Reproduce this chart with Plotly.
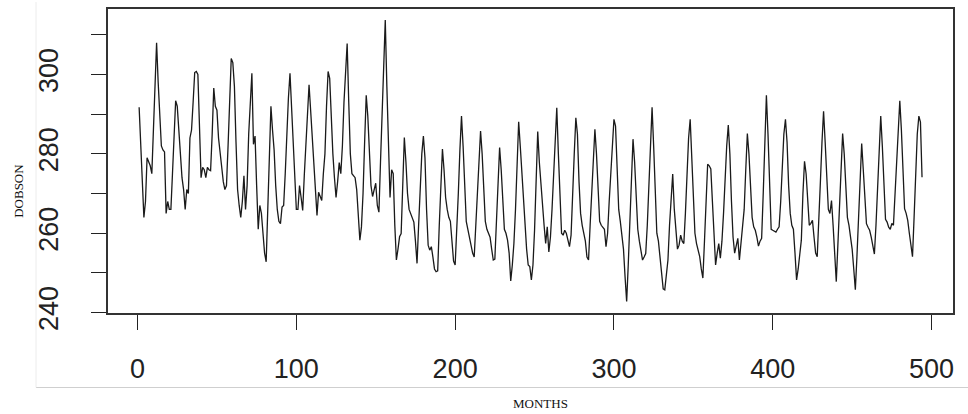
import plotly.graph_objects as go

# monthly total ozone (Dobson units), one row per year
dobson = [
    291.75, 283, 272, 264, 268, 279, 278, 277, 275, 287, 300, 308,
    298, 290, 282, 281, 280.5, 265, 268, 266, 266, 275, 285, 293.4,
    292, 286, 279, 274, 271, 266, 271, 270, 284, 286, 293, 300.5,
    300.75, 300, 287, 274, 276.6, 276, 274, 276.6, 276, 275.75, 285, 296.6,
    292, 291, 284, 280, 276, 273, 271, 272, 282, 295, 304, 303,
    297, 283, 271, 267, 264, 268, 274.5, 266, 272, 285, 295, 300.3,
    282.4, 284.5, 272, 261, 267, 265, 260, 255, 252.8, 265, 280, 292,
    286, 281, 272, 266, 263, 262.4, 266.6, 267, 275, 285, 294, 300.3,
    292, 280, 272, 266, 266, 272, 269, 265.75, 274.5, 282, 291, 297.4,
    291, 285, 277, 273, 264.5, 270.3, 269, 268.25, 275, 280, 292, 300.75,
    299, 288, 280, 274, 269, 273, 277.8, 275, 282, 293, 302, 307.8,
    293, 280, 275, 274.5, 274, 271, 265, 258.25, 261.6, 270, 283, 294.75,
    289.5, 280, 272, 269.25, 271, 272.6, 267, 265.3, 278, 292, 305, 313.7,
    297, 280, 269, 276, 275, 262, 253.25, 256, 259.1, 259.9, 272, 284.1,
    278, 270, 266, 265, 263.5, 262.8, 258, 252.4, 262, 272, 280, 284.5,
    279, 266, 257, 255.75, 256.6, 254, 251, 250.3, 250.5, 262, 273, 281.2,
    276, 269, 266, 264, 263, 258, 253, 252, 260, 270, 281, 289.5,
    282, 270, 263, 261, 259, 257, 255, 254, 262, 270, 279, 285.75,
    280, 270, 263, 261, 260, 259, 256, 253.25, 253.5, 262, 272, 281.6,
    276, 267, 261, 260, 258.25, 255, 248, 252, 257.4, 266, 278, 288.1,
    282, 275, 270, 263, 256, 252, 251.6, 248.25, 252, 260.75, 273, 285.6,
    278, 272, 268, 262, 257.4, 261.6, 255.3, 259, 266, 275, 284, 291.6,
    280, 268, 260, 259.5, 260.75, 260, 258, 256.6, 259.5, 268, 280, 289.1,
    285, 273, 265, 262, 259.5, 258, 254, 253.25, 262, 270, 279, 286.2,
    280, 270, 263, 262, 261.5, 261, 256.6, 260, 268, 276, 284, 288.7,
    287, 275, 266, 263, 259, 256, 249, 242.8, 252, 264, 275, 283.7,
    278, 268, 261, 258, 255, 253.25, 254, 254.9, 262, 272, 283, 291.75,
    282, 270, 260, 258, 254, 250, 246, 245.75, 250, 253.25, 262, 270,
    274.9, 266, 260, 256, 257, 259.5, 258, 257.4, 265, 275, 284, 288.7,
    280, 268, 260, 257.4, 256, 254.1, 251, 248.7, 258, 268, 277.4, 277,
    276.2, 268, 258, 252, 255, 257.4, 253.7, 258, 265, 274, 282, 287.25,
    280, 268, 259, 255, 257, 258.7, 253.25, 257, 262, 266, 276, 285.1,
    280, 270, 264, 261.6, 260.75, 259, 256.75, 258, 258.7, 270, 284, 294.75,
    285, 270, 261, 260.75, 260.5, 260.3, 261, 261.6, 268, 277, 285, 288.7,
    283, 272, 265, 262, 261, 255, 248.25, 251, 255, 258.25, 270, 278.1,
    275, 268, 262, 262.5, 263.25, 259, 255, 254.1, 262, 273, 283, 290.75,
    283, 273, 266, 265, 268.25, 262, 255, 247.8, 257, 267, 277, 285.1,
    280, 270, 264, 262, 259, 256, 251, 245.75, 254, 264, 274, 282.6,
    276, 268, 262.4, 261.5, 260.75, 259, 257, 254.75, 262, 272, 282, 289.5,
    282, 270, 263.5, 262.8, 261.5, 261, 262.5, 262, 270, 280, 288, 293.4,
    286, 274, 266.2, 265, 263.25, 260, 257, 254.1, 264, 274.5, 285, 289.5,
    288, 274.1,
]
months = list(range(1, len(dobson) + 1))

x_ticks = [0, 100, 200, 300, 400, 500]
y_ticks = [240, 250, 260, 270, 280, 290, 300, 310]
y_labels = ["240", "", "260", "", "280", "", "300", ""]

tick_font = dict(family="Liberation Sans Narrow, Arial Narrow, Liberation Sans, Arial",
                 size=27, color="#222")
title_font = dict(family="Liberation Serif, Times New Roman, serif", size=13, color="#111")

fig = go.Figure()
fig.add_trace(go.Scatter(x=months, y=dobson, mode="lines",
                         line=dict(color="#1a1a1a", width=1.3),
                         showlegend=False, hoverinfo="x+y"))

fig.update_layout(
    width=968, height=414,
    margin=dict(l=108, r=15, t=7, b=101),
    paper_bgcolor="white", plot_bgcolor="white",
    xaxis=dict(range=[-18.6, 513.5], tickvals=x_ticks, ticks="outside", ticklen=15,
               tickwidth=1.3, tickcolor="#222", showgrid=False, zeroline=False,
               showline=True, mirror=True, linecolor="#333", linewidth=1.6,
               tickfont=tick_font, ticklabelstandoff=16),
    yaxis=dict(range=[239.9, 316.5], tickvals=y_ticks, ticktext=y_labels,
               ticks="outside", ticklen=15, tickwidth=1.3, tickcolor="#222",
               showgrid=False, zeroline=False, showline=True, mirror=True,
               linecolor="#333", linewidth=1.6, tickangle=-90,
               tickfont=tick_font, ticklabelstandoff=22),
    annotations=[
        dict(text="DOBSON", x=19, y=190, xref="paper", yref="paper", showarrow=False,
             textangle=-90, font=title_font, xanchor="center", yanchor="middle"),
        dict(text="MONTHS", x=540, y=404, xref="paper", yref="paper", showarrow=False,
             font=title_font, xanchor="center", yanchor="middle"),
    ],
)

# annotations were placed in pixels; convert to paper coordinates
for a in fig.layout.annotations:
    a.x = (a.x - 108) / 845
    a.y = (313 - a.y) / 306

# thin frame lines of the original page
fig.add_shape(type="line", xref="paper", yref="paper",
              x0=(36 - 108) / 845, x1=(968 - 108) / 845,
              y0=(313 - 388) / 306, y1=(313 - 388) / 306,
              line=dict(color="#cfcfcf", width=1))
fig.add_shape(type="line", xref="paper", yref="paper",
              x0=(36 - 108) / 845, x1=(36 - 108) / 845,
              y0=(313 - 388) / 306, y1=(313 - 0) / 306,
              line=dict(color="#ececec", width=1))

# drop the default page margin so the figure sits at the window's corner
fig.write_html("out.html", config={"displayModeBar": False},
               post_script="document.body.style.margin='0';")
